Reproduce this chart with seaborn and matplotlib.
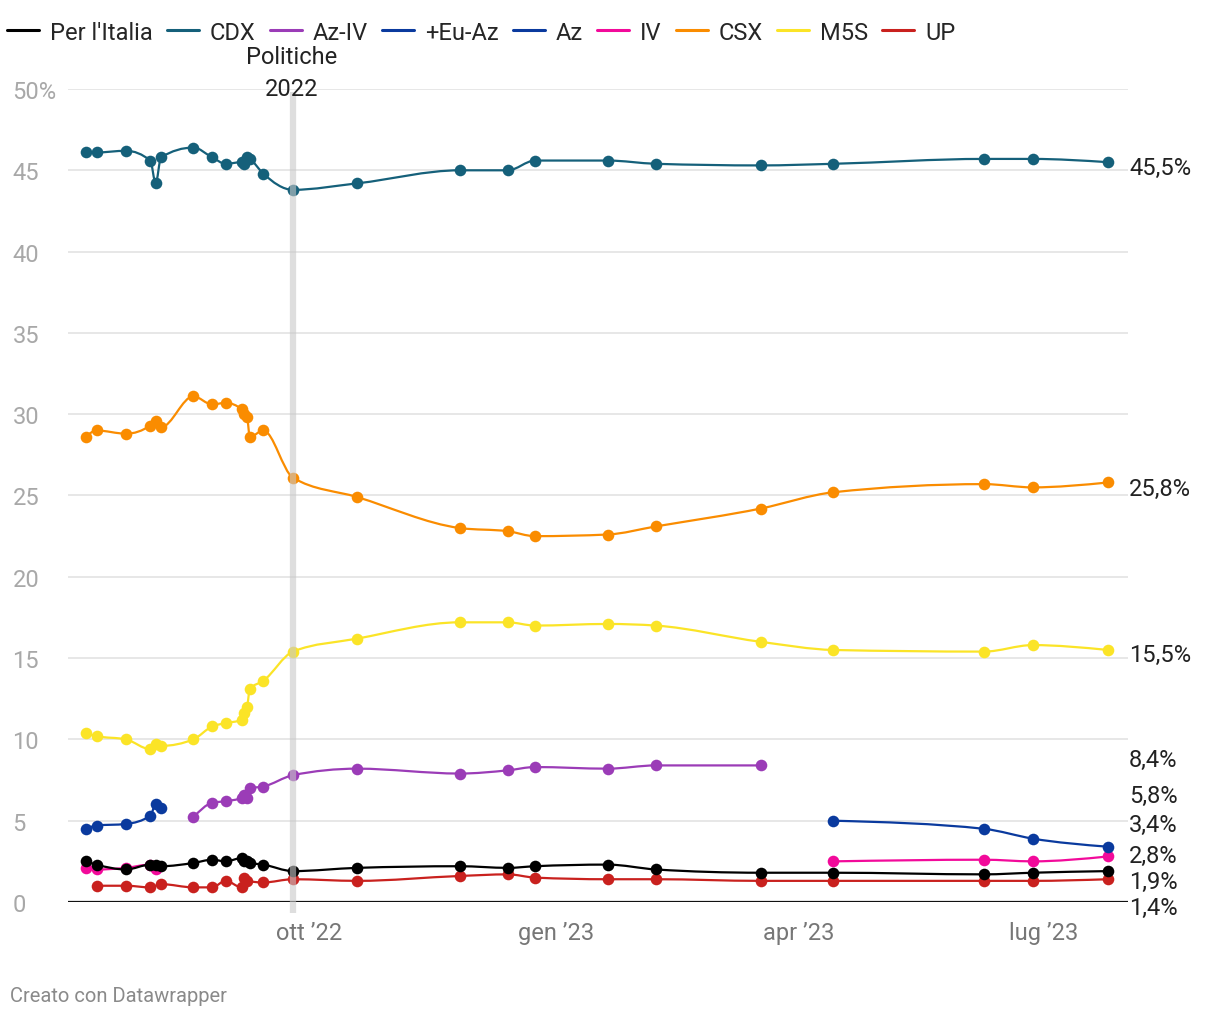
import numpy as np
import pandas as pd
import seaborn as sns
import matplotlib
matplotlib.use("Agg")
import matplotlib.pyplot as plt
import matplotlib.dates as mdates
from matplotlib.path import Path
from matplotlib.patches import PathPatch
from matplotlib.lines import Line2D
import matplotlib.transforms as mtransforms

nan = np.nan

# poll dates
dates = ["2022-07-10", "2022-07-14", "2022-07-25", "2022-08-03", "2022-08-05",
         "2022-08-07", "2022-08-19", "2022-08-26", "2022-08-31", "2022-09-06",
         "2022-09-07", "2022-09-08", "2022-09-09", "2022-09-14", "2022-09-25",
         "2022-10-19", "2022-11-26", "2022-12-14", "2022-12-24", "2023-01-20",
         "2023-02-07", "2023-03-18", "2023-04-14", "2023-06-09", "2023-06-27",
         "2023-07-25"]

per_italia = [2.5, 2.3, 2.0, 2.3, 2.3, 2.2, 2.4, 2.6, 2.5, 2.7, 2.5, 2.5, 2.4,
              2.3, 1.9, 2.1, 2.2, 2.1, 2.2, 2.3, 2.0, 1.8, 1.8, 1.7, 1.8, 1.9]
cdx = [46.1, 46.1, 46.2, 45.6, 44.2, 45.8, 46.4, 45.8, 45.4, 45.5, 45.4, 45.8, 45.7,
       44.8, 43.8, 44.2, 45.0, 45.0, 45.6, 45.6, 45.4, 45.3, 45.4, 45.7, 45.7, 45.5]
az_iv = [nan] * 6 + [5.2, 6.1, 6.2, 6.4, 6.6, 6.4, 7.0, 7.1, 7.8, 8.2, 7.9, 8.1,
                     8.3, 8.2, 8.4, 8.4] + [nan] * 4
eu_az = [4.5, 4.7, 4.8, 5.3, 6.0, 5.8] + [nan] * 20
az = [nan] * 22 + [5.0, 4.5, 3.9, 3.4]
iv = [2.1, 2.0, 2.1, 2.3, 2.0] + [nan] * 17 + [2.5, 2.6, 2.5, 2.8]
csx = [28.6, 29.0, 28.8, 29.3, 29.6, 29.2, 31.1, 30.6, 30.7, 30.3, 30.0, 29.8, 28.6,
       29.0, 26.1, 24.9, 23.0, 22.8, 22.5, 22.6, 23.1, 24.2, 25.2, 25.7, 25.5, 25.8]
m5s = [10.4, 10.2, 10.0, 9.4, 9.7, 9.6, 10.0, 10.8, 11.0, 11.2, 11.6, 12.0, 13.1,
       13.6, 15.4, 16.2, 17.2, 17.2, 17.0, 17.1, 17.0, 16.0, 15.5, 15.4, 15.8, 15.5]
up = [nan, 1.0, 1.0, 0.9, nan, 1.1, 0.9, 0.9, 1.3, 0.9, 1.5, 1.3, nan,
      1.2, 1.4, 1.3, 1.6, 1.7, 1.5, 1.4, 1.4, 1.3, 1.3, 1.3, 1.3, 1.4]

series_names = ["Per l'Italia", "CDX", "Az-IV", "+Eu-Az", "Az", "IV", "CSX", "M5S", "UP"]
series_values = [per_italia, cdx, az_iv, eu_az, az, iv, csx, m5s, up]
colors = ["#000000", "#15607a", "#9b3cb7", "#0a3a9e", "#0a3a9e", "#f20a9a",
          "#fa8c00", "#fbe427", "#c9211e"]

# where the end labels sit (dodged), in % units
label_y = {"CDX": 45.2, "CSX": 25.45, "M5S": 15.2, "Az-IV": 8.79, "+Eu-Az": 6.58,
           "Az": 4.74, "IV": 2.89, "Per l'Italia": 1.29, "UP": -0.31}

election = pd.Timestamp("2022-09-25")
month_ticks = ["2022-10-01", "2023-01-01", "2023-04-01", "2023-07-01"]
month_labels = ["ott \u201922", "gen \u201923", "apr \u201923", "lug \u201923"]

df = pd.DataFrame({"data": pd.to_datetime(dates)})
for name, vals in zip(series_names, series_values):
    df[name] = vals


def monotone_path(x, y):
    # same curve as d3.curveMonotoneX
    n = len(x)
    if n < 2:
        return None
    h = np.diff(x)
    s = np.diff(y) / h
    t = np.zeros(n)
    if n == 2:
        t[:] = s[0]
    else:
        for i in range(1, n - 1):
            h0, h1, s0, s1 = h[i - 1], h[i], s[i - 1], s[i]
            p = (s0 * h1 + s1 * h0) / (h0 + h1)
            sg = (1 if s0 >= 0 else -1) + (1 if s1 >= 0 else -1)
            t[i] = sg * min(abs(s0), abs(s1), 0.5 * abs(p))
        t[0] = (3 * s[0] - t[1]) / 2
        t[-1] = (3 * s[-1] - t[-2]) / 2
    verts = [(x[0], y[0])]
    codes = [Path.MOVETO]
    for i in range(n - 1):
        dx = (x[i + 1] - x[i]) / 3
        verts += [(x[i] + dx, y[i] + dx * t[i]),
                  (x[i + 1] - dx, y[i + 1] - dx * t[i + 1]),
                  (x[i + 1], y[i + 1])]
        codes += [Path.CURVE4] * 3
    return Path(verts, codes)


sns.set_theme(style="white")
plt.rcParams["font.family"] = ["Roboto", "DejaVu Sans"]
FS = 17

fig = plt.figure(figsize=(12.2, 10.2), dpi=100)
ax = fig.add_axes([68 / 1220, 1 - 903 / 1020, (1128 - 68) / 1220, (903 - 90) / 1020])

# grid
for v in range(5, 55, 5):
    ax.axhline(v, color="#e3e3e3", lw=1.2, zorder=0)
ax.axhline(0, color="#111111", lw=1.6, zorder=1)

n_series = len(series_names)
for k, (name, col) in enumerate(zip(series_names, colors)):
    sub = df[["data", name]].rename(columns={name: "valore"})
    valid = np.flatnonzero(sub["valore"].notna().to_numpy())
    z = 10 + 2 * (n_series - k)
    # break the line where a long run of polls is missing
    breaks = np.flatnonzero(np.diff(valid) > 2) + 1
    for seg in np.split(valid, breaks):
        part = sub.iloc[seg]
        path = monotone_path(mdates.date2num(part["data"]), part["valore"].to_numpy())
        if path is not None:
            ax.add_patch(PathPatch(path, fill=False, edgecolor=col, lw=1.6,
                                   zorder=z, clip_on=False))
    pts = sub.iloc[valid]
    sns.scatterplot(data=pts, x="data", y="valore", color=col, s=70,
                    edgecolor=col, linewidth=0, ax=ax, zorder=z + 1,
                    legend=False, clip_on=False)
    last = pts.iloc[-1]["valore"]
    ax.text(1129 / 1220, label_y[name], f"{last:.1f}".replace(".", ",") + "%",
            transform=mtransforms.blended_transform_factory(fig.transFigure, ax.transData),
            ha="left", va="center", fontsize=FS, color="#222222")

# election marker
ax.plot([election, election], [-0.7, 49.8], color="#c8c8c8", lw=4.5, alpha=0.6,
        solid_capstyle="butt", zorder=40, clip_on=False)
fig.text(292 / 1220, 1 - 58 / 1020, "Politiche", ha="center", va="center",
         fontsize=FS, color="#222222")
fig.text(292 / 1220, 1 - 90 / 1020, "2022", ha="center", va="center",
         fontsize=FS, color="#222222", zorder=50)

base = mdates.date2num(pd.Timestamp("2022-10-01"))
ax.set_xlim(base - 89.6, base + 304.5)
ax.set_ylim(0, 50)
ax.set_xticks(pd.to_datetime(month_ticks))
ax.set_xticklabels(month_labels)
ax.set_yticks(range(0, 55, 5))
ax.set_yticklabels([str(v) for v in range(0, 50, 5)] + ["50%"])
ax.tick_params(axis="x", length=0, pad=14, labelsize=FS, labelcolor="#777777")
ax.tick_params(axis="y", length=0, pad=40, labelsize=FS, labelcolor="#a8a8a8")
for lab in ax.get_yticklabels():
    lab.set_horizontalalignment("left")
ax.set_xlabel("")
ax.set_ylabel("")
for sp in ax.spines.values():
    sp.set_visible(False)
ax.patch.set_alpha(0)

handles = [Line2D([0], [0], color=c, lw=2.2) for c in colors]
fig.legend(handles, series_names, loc="center left", bbox_to_anchor=(0.0, 1 - 33 / 1020),
           ncol=n_series, frameon=False, fontsize=FS, handlelength=1.35,
           handletextpad=0.45, columnspacing=0.62, borderaxespad=0, borderpad=0.3)

fig.text(10 / 1220, 1 - 997 / 1020, "Creato con Datawrapper", ha="left", va="center",
         fontsize=14.5, color="#8a8a8a")

fig.savefig("out.png", dpi=100)
